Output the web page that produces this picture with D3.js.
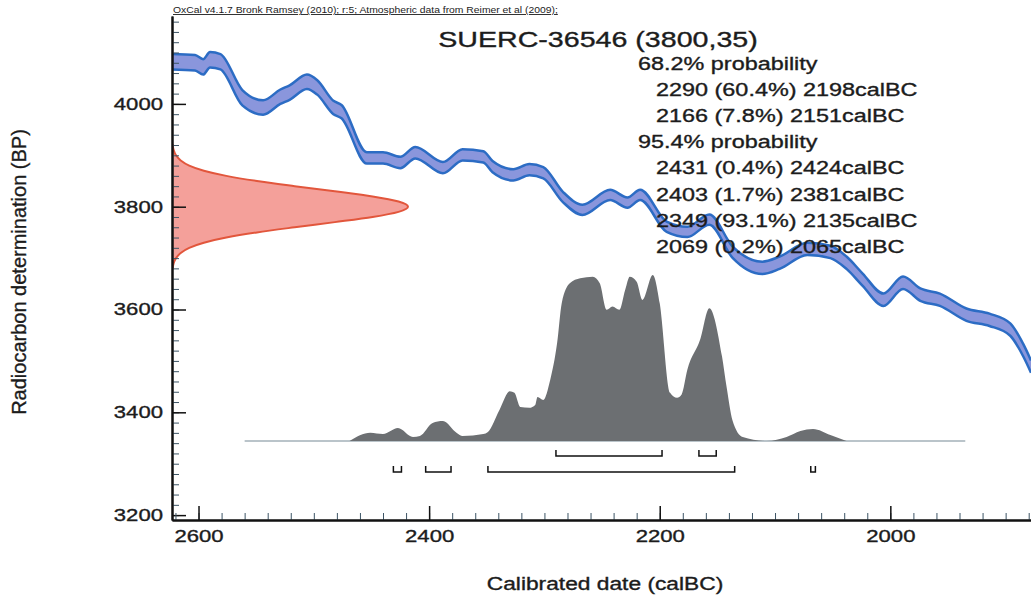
<!DOCTYPE html>
<html>
<head>
<meta charset="utf-8">
<script src="https://cdn.jsdelivr.net/npm/d3@7"></script>
<style>
  body { margin: 0; background: #fff; }
  text { font-family: "Liberation Sans", Arial, sans-serif; fill: #1c1c1c; }
  .bold-ish { stroke: #1c1c1c; stroke-width: 0.35px; }
</style>
</head>
<body>
<svg id="chart" width="1031" height="600"></svg>
<script>
// calibration curve (IntCal09): calBC, BP, 1 sigma
const calYear = [2623, 2603, 2596, 2590, 2581, 2562, 2544, 2529, 2521, 2506, 2497, 2483, 2476, 2454, 2440, 2425, 2412, 2388, 2371, 2353, 2345, 2327, 2313, 2301, 2284, 2267, 2243, 2228, 2217, 2194, 2176, 2157, 2137, 2111, 2096, 2072, 2052, 2038, 2024, 2006, 1989, 1974, 1957, 1934, 1914, 1896, 1885, 1878];
const calBP = [4082, 4080, 4072, 4086, 4082, 4012, 3993, 4014, 4022, 4043, 4032, 3993, 3985, 3895, 3895, 3886, 3905, 3876, 3901, 3897, 3878, 3862, 3872, 3866, 3819, 3794, 3823, 3808, 3823, 3761, 3751, 3775, 3712, 3681, 3691, 3718, 3712, 3691, 3658, 3619, 3652, 3629, 3619, 3590, 3580, 3561, 3522, 3489];
const calErr = [15, 15, 15, 15, 15, 15, 14, 14, 14, 14, 14, 13, 13, 11, 11, 11, 11, 11, 11, 11, 11, 11, 11, 11, 10, 10, 10, 10, 10, 10, 10, 10, 11, 12, 12, 12, 12, 12, 12, 12, 12, 12, 12, 12, 12, 12, 12, 12];

// radiocarbon measurement 3800 +/- 35 (relative likelihood)
const likeBP = [3920, 3910, 3900, 3890, 3880, 3870, 3860, 3850, 3840, 3830, 3820, 3810, 3800, 3790, 3780, 3770, 3760, 3750, 3740, 3730, 3720, 3710, 3700, 3690, 3680];
const likeP = [0.003, 0.007, 0.017, 0.037, 0.073, 0.135, 0.23, 0.36, 0.52, 0.69, 0.85, 0.96, 1, 0.96, 0.85, 0.69, 0.52, 0.36, 0.23, 0.135, 0.073, 0.037, 0.017, 0.007, 0.003];

// calibrated distribution
const postYear = [2469, 2451, 2440, 2427, 2414, 2408, 2397, 2388, 2376, 2371, 2353, 2349, 2339, 2330, 2326, 2321, 2313, 2308, 2306, 2301, 2295, 2289, 2285, 2278, 2269, 2258, 2252, 2246, 2241, 2235, 2230, 2226, 2220, 2215, 2206, 2200, 2191, 2185, 2181, 2176, 2165, 2157, 2146, 2142, 2137, 2128, 2107, 2090, 2078, 2067, 2052, 2038];
const postP = [0, 0.05, 0.042, 0.078, 0.024, 0.03, 0.108, 0.12, 0.048, 0.03, 0.042, 0.054, 0.187, 0.30, 0.29, 0.205, 0.2, 0.217, 0.265, 0.247, 0.367, 0.59, 0.83, 0.95, 0.98, 0.99, 0.95, 0.79, 0.81, 0.79, 0.91, 0.99, 0.96, 0.85, 1.0, 0.83, 0.29, 0.26, 0.28, 0.43, 0.61, 0.80, 0.51, 0.325, 0.127, 0.024, 0, 0.024, 0.06, 0.072, 0.036, 0];
const postSpan = [2560, 1935];

// ranges
const range68 = [[2290, 2198], [2166, 2151]];
const pct68 = ["60.4", "7.8"];
const range95 = [[2431, 2424], [2403, 2381], [2349, 2135], [2069, 2065]];
const pct95 = ["0.4", "1.7", "93.1", "0.2"];

const xMajor = [2600, 2400, 2200, 2000];
const yMajor = [3200, 3400, 3600, 3800, 4000];
const sampleName = "SUERC-36546";
const sampleDate = [3800, 35];
const header = "OxCal v4.1.7 Bronk Ramsey (2010); r:5; Atmospheric data from Reimer et al (2009);";

const m = {left: 172, right: 1031, top: 16, bottom: 520};
const K = 1.3; // horizontal stretch of the original image

const svg = d3.select("#chart");
const x = d3.scaleLinear().domain([2623, 1878]).range([m.left, m.right]);
const y = d3.scaleLinear().domain([3190.5, 4171]).range([m.bottom, m.top]);
const likeX = d3.scaleLinear().domain([0, 1]).range([m.left, 408]);
const postY = d3.scaleLinear().domain([0, 1]).range([441, 275]);

function stretch(sel, k) {
  sel.each(function() {
    const L = this.getComputedTextLength();
    d3.select(this).attr("textLength", L * k).attr("lengthAdjust", "spacingAndGlyphs");
  });
}

svg.append("defs").append("clipPath").attr("id", "clip")
  .append("rect").attr("x", m.left).attr("y", m.top).attr("width", m.right - m.left).attr("height", m.bottom - m.top);
const plot = svg.append("g").attr("clip-path", "url(#clip)");

// calibration band
const cal = calYear.map((t, i) => ({t, bp: calBP[i], e: calErr[i]}));
plot.append("path").datum(cal)
  .attr("fill", "#8a96dc")
  .attr("d", d3.area().curve(d3.curveMonotoneX)
    .x(d => x(d.t)).y0(d => y(d.bp - d.e)).y1(d => y(d.bp + d.e)));
[1, -1].forEach(s => {
  plot.append("path").datum(cal)
    .attr("fill", "none").attr("stroke", "#2c6cc4").attr("stroke-width", 2.5)
    .attr("d", d3.line().curve(d3.curveMonotoneX).x(d => x(d.t)).y(d => y(d.bp + s * d.e)));
});

// likelihood
const like = likeBP.map((b, i) => ({b, p: likeP[i]}));
plot.append("path").datum(like)
  .attr("fill", "#f4a09a").attr("stroke", "#e2563c").attr("stroke-width", 2)
  .attr("d", d3.area().curve(d3.curveMonotoneY)
    .y(d => y(d.b)).x0(likeX(0)).x1(d => likeX(d.p)));

// posterior
plot.append("line")
  .attr("x1", x(postSpan[0])).attr("x2", x(postSpan[1]))
  .attr("y1", postY(0)).attr("y2", postY(0))
  .attr("stroke", "#a3b0b8").attr("stroke-width", 1.5);
const post = postYear.map((t, i) => ({t, p: postP[i]}));
plot.append("path").datum(post)
  .attr("fill", "#6c6f72")
  .attr("d", d3.area().curve(d3.curveMonotoneX)
    .x(d => x(d.t)).y0(postY(0)).y1(d => postY(d.p)));

// range brackets
function brackets(ranges, yy) {
  plot.selectAll(null).data(ranges).join("path")
    .attr("fill", "none").attr("stroke", "#111").attr("stroke-width", 1.5)
    .attr("d", d => `M${x(d[0])},${yy - 6}V${yy}H${x(d[1])}V${yy - 6}`);
}
brackets(range68, 456);
brackets(range95, 472);

// axes
const yAxis = svg.append("g").attr("transform", `translate(${m.left},0)`);
yAxis.call(d3.axisLeft(y).tickValues(d3.range(3200, 4171, 20)).tickSize(-7).tickSizeOuter(0).tickFormat(""));
yAxis.selectAll(".tick line").attr("stroke", "#3d5566");
const yMaj = svg.append("g").attr("transform", `translate(${m.left},0)`)
  .call(d3.axisLeft(y).tickValues(yMajor).tickSize(-14).tickSizeOuter(0).tickPadding(9).tickFormat(d3.format("d")));
yMaj.selectAll(".tick line").attr("stroke", "#111").attr("stroke-width", 1.5);

const xAxis = svg.append("g").attr("transform", `translate(0,${m.bottom})`);
xAxis.call(d3.axisBottom(x).tickValues(d3.range(2620, 1878, -20)).tickSize(-7).tickSizeOuter(0).tickFormat(""));
xAxis.selectAll(".tick line").attr("stroke", "#3d5566");
const xMaj = svg.append("g").attr("transform", `translate(0,${m.bottom})`)
  .call(d3.axisBottom(x).tickValues(xMajor).tickSize(-14).tickSizeOuter(0).tickPadding(10).tickFormat(d3.format("d")));
xMaj.selectAll(".tick line").attr("stroke", "#111").attr("stroke-width", 1.5);

svg.selectAll(".domain").attr("stroke", "#111").attr("stroke-width", 2);
svg.selectAll(".tick text").style("font-size", "17px").attr("class", "bold-ish")
  .style("font-family", "'Liberation Sans', Arial, sans-serif").attr("fill", "#1c1c1c");
stretch(svg.selectAll(".tick text"), K);

// texts
const hdr = svg.append("text").attr("x", m.left + 1).attr("y", 13)
  .style("font-size", "9px").attr("fill", "#333").style("text-decoration", "underline").text(header);
stretch(hdr, 1.15);

const title = svg.append("text").attr("class", "bold-ish").attr("x", 598).attr("y", 47).attr("text-anchor", "middle")
  .style("font-size", "22px").text(`${sampleName} (${sampleDate[0]},${sampleDate[1]})`);
stretch(title, K);

const lines = [{s: "68.2% probability", ind: 0}]
  .concat(range68.map((r, i) => ({s: `${r[0]} (${pct68[i]}%) ${r[1]}calBC`, ind: 1})))
  .concat([{s: "95.4% probability", ind: 0}])
  .concat(range95.map((r, i) => ({s: `${r[0]} (${pct95[i]}%) ${r[1]}calBC`, ind: 1})));
const probText = svg.append("g").selectAll("text").data(lines).join("text")
  .attr("class", "bold-ish")
  .attr("x", d => d.ind ? 656 : 638)
  .attr("y", (d, i) => 70 + i * 26.1)
  .style("font-size", "18px")
  .text(d => d.s);
stretch(probText, K);

const xt = svg.append("text").attr("class", "bold-ish").attr("x", 605).attr("y", 590).attr("text-anchor", "middle")
  .style("font-size", "17.5px").text("Calibrated date (calBC)");
stretch(xt, K);

svg.append("text").attr("class", "bold-ish").attr("transform", "translate(26,272) rotate(-90)").attr("text-anchor", "middle")
  .style("font-size", "20px").text("Radiocarbon determination (BP)");
</script>
</body>
</html>
